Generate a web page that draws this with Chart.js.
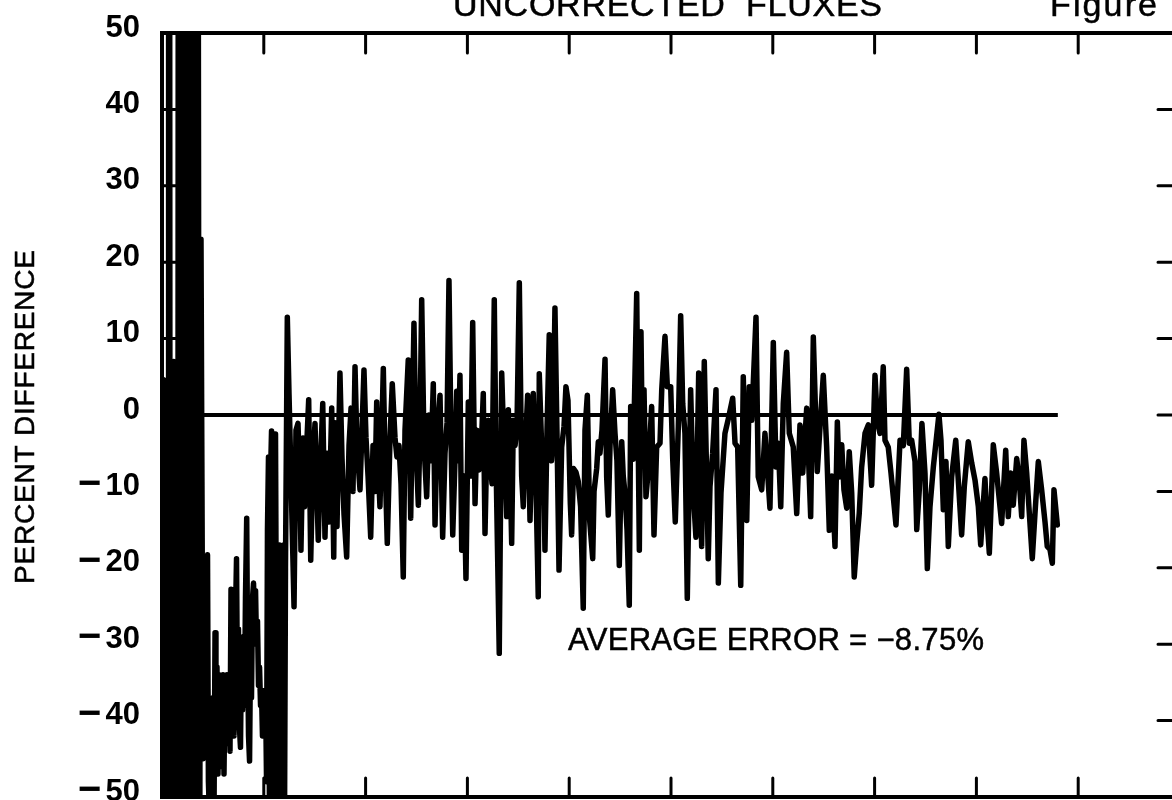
<!DOCTYPE html>
<html>
<head>
<meta charset="utf-8">
<title>Uncorrected fluxes</title>
<script src="https://cdn.jsdelivr.net/npm/chart.js@4.4.1/dist/chart.umd.min.js"></script>
<style>
    html, body { margin: 0; padding: 0; background: #fff; overflow: hidden; }
    #wrap { position: absolute; left: 0; top: 0; width: 1200px; height: 800px; }
</style>
</head>
<body>
<div id="wrap"><canvas id="fluxChart" width="1200" height="800"></canvas></div>

<script>
    // channel positions (x) and percent difference (y)
    const channel = [
        // saturated start, off scale both ways
        0, 1.5, 3, 6, 6.5, 7.5, 8, 10.5, 11.5, 12.5, 15.5, 16, 17, 17.5, 19, 19.5, 20.5, 21.5,
        22.5, 23.5, 24.5, 25.5, 26.5, 27.5, 28.5, 29.5, 30.5, 31.5, 32.5, 33.5, 34.5, 35.5, 36.8,
        // low region
        38.3, 40.3, 41.3, 42.2, 43.2, 44.7, 45.6, 47.2, 48.1, 49.1, 50.1, 51.1, 52.1, 53, 54, 55,
        56, 57, 58, 58.9, 59.9, 60.9, 61.9, 62.9, 63.8, 64.8, 65.8, 66.8, 67.8, 68.8, 69.7, 70.7,
        71.7, 73.2, 74.1, 75.1, 76.1, 77.1, 78.1, 79.1, 80.1, 81, 82, 83.2, 84, 85, 86, 87, 87.9,
        88.9, 89.9, 90.9, 91.9, 92.8, 93.8, 94.8, 95.8, 96.8, 97.7, 98.7, 99.7, 100.7, 101.7,
        102.7, 103.6, 104.6, 105.6, 106.6, 107.6, 108.5, 109.5, 110.5, 111.5, 112.5, 113.5,
        114.4, 115.4, 116.4, 117.4, 118.4, 119.3, 120.3, 121.3,
        // main band
        123.1, 124.8, 126.7, 129.7, 131.6, 133.6, 135.6, 136.5, 138.5, 140, 141.5, 144.1, 146.1,
        148.3, 150.3, 153.5, 155.2, 157.9, 160.1, 162.1, 164, 166.7, 168.7, 169.9, 171.9, 174.8,
        176.8, 178.8, 181.4, 183.7, 185.7, 187.6, 189.6, 191.5, 194.5, 198.4, 200.4, 202.4, 205,
        207.3, 209.2, 210.9, 212.2, 214.1, 217.4, 219.1, 221.3, 224, 226.2, 228.9, 230.8, 232.8,
        234.8, 237, 238.7, 241.9, 244.3, 247.5, 249.5, 251.8, 253.4, 255.1, 257.4, 260, 262.3,
        264.2, 266.5, 268.2, 270.1, 273.1, 275.7, 278, 280, 281.9, 283.9, 285.6, 287.8, 289.5,
        290.8, 292.7, 294.4, 296.7, 298.6, 300.9,
        303, 305.2, 307.5, 309.4, 311.4, 313.4, 315.6, 317.3, 319.2, 320.5, 322.2, 324.2, 326.4,
        328.1, 331.3, 333.7, 335.5, 336.9, 338.6, 340.2, 341.8, 343.5, 345.1, 346.8, 348.7, 351,
        353.3, 354.9, 356.6, 359.2, 361.5, 364.7, 366.9, 369.6, 370.6, 372.8, 374.7, 376.2, 378.2,
        380.4, 382.6, 384.1, 386, 388, 390, 392.6, 394.9, 396.8, 398.8, 401.1, 402.4, 404.2, 406.7,
        408.9, 411.2, 413.8, 415.5, 417.8, 420.1, 423.1, 424.4, 427, 428.6, 430.2, 432.2, 435.2,
        436.8, 438.4, 440.1, 442.7, 445, 446.9, 449.2, 451.6, 453.1, 454.8, 456.8, 459, 460.4,
        462.9, 466.3, 468.9, 470.5,
        472, 473.5, 475.4, 477.7, 481, 483.3, 485.9, 489.2, 490.9, 494.1, 496.4, 499.7, 501.7,
        504.2, 507.2, 509.5, 511.5, 513.7, 516, 519.3, 521.9, 524.5, 527.2, 530.1, 532.7, 535.1,
        536.6, 538.3, 540.9, 544.2, 546.5, 549.1, 553, 556.3, 560.6, 562.9, 565.5, 568.5, 571,
        574.4, 576.9, 579.3, 583.5, 585.7, 589.1, 592.3, 597.2, 600.5, 603.1, 605.4, 607.8, 610.3,
        613.6, 616.2, 620.1, 623.5, 626.7, 629.4, 633.3, 637.2, 639.8, 643.7, 646.4, 649.6, 652.9,
        655.5,
        // tail, smaller scatter
        658.1, 661.1, 663.4, 665.3, 667.7, 669.9, 672.6, 675.1, 677.5, 680, 682.4, 684.9, 687.3,
        690.6, 693.8, 695.5, 697.1, 700.4, 702.6, 705.3, 708.5, 710.2, 713.4, 716.1, 721, 725,
        728.2, 731.5, 734.1, 736.4, 739.7, 741.4, 743.9, 746.5, 749.5, 751.8, 754.4, 757.7, 763.2,
        765.2, 767.5, 770.1, 772.4, 775.7, 779.7, 782.2, 785.5, 788.1, 792, 795.4, 798.6, 801.9,
        804.2, 808.4, 810.1, 812.7, 816.6, 819.9, 824.8, 828.8, 831.3, 833.7, 836.2, 839.6, 842.1,
        844.5, 846.7, 849.4, 854.9, 857.5, 860.8, 864.1, 867.4, 869.6, 872.3, 874.6, 876.2, 879.5
    ];

    const percentDiff = [
        -75, 4.6, -75, -75, 75, 75, -75, -75, 7, -75, -75, 75, 75, -75, -75, 75, -75, 75,
        -75, 75, -75, 75, -75, 75, -75, 75, -75, 75, -75, 75, -75, 75, -75,
        23, -45, -22, -40, -20, -18.3, -48, -55, -38, -55, -37, -52, -28.5, -46, -33, -47,
        -34, -46, -36, -44, -34, -47, -35, -43, -34, -41, -35, -44, -22.8, -40, -25.4, -42,
        -30, -18.8, -36, -28, -41, -43.5, -30, -38.6, -29, -38, -24, -13.5, -30, -42, -45.3, -30, -37,
        -24, -22, -27, -23, -30, -27, -35.4, -33, -38, -36, -42, -38, -40, -36,
        -48, -15, -5.5, -55, -8, -2.1, -55, -6, -55, -2.5, -35, -17.5,
        -55, -17, -55, -18, -55, -17, -55, -20,
        12.8, 2.6, -8, -25.1, -2, -1.1, -10, -17.7, -3, -12, -6, 2, -19,
        -6, -1.1, -16.4, -8, 1.5, -16, -5, -14, 0.9, -18.6, -1, -14.6, 5.5,
        -5.5, -13, -18.6, -4, 0.9, -10, 6.3, -4, -9.8, 5.9, -3, -8, -16,
        -4, -10, 1.7, -6, -12, 6.1, -6, -16.8, -3, 4.1, -3, -5.5, -4,
        -9, -21.2, -2, 7.2, -13.5, 12, -4, -11.8, -2, 15.1, -4, -10.7, 0,
        -6, 4.1, -14.4, -3, 2.6, -16, -5, -1, 17.6, -3, -15.7, -6, 3.1,
        -6, 5.2, -17.7, -8, -21.4, 1.7,
        -8, 12.1, -11.6, -2, -7.2, -5, 2.8, -15.5, -3, -0.7, -6, -9, 15.1,
        -6, -31.2, 5.5, -2.4, -6, -13.3, 0.7, -6, -16.8, -0.7, -4, -1.5, 17.3,
        -8, -12, -5, 2.6, -13.8, 2.8, -6, -23.8, 5.4, -3.5, -6, -17.7, -2,
        10.5, -6, -3, 14, -2.4, -20.3, -4.2, -1.5, 3.7, 1.9, -11.6, -15.7, -7, -7.5,
        -8.7, -12, -25.3, -2, 2.6, -13.8, -18.8, -10, -7, -3.5, -5, -2, 7.3,
        -8.1, -13.1, -4, 3.3, -2.4, -6, -19.7, -3.5, -8, -10.2, -15, -24.9, 1.1,
        -5.8, 15.9, -17.7, 10.9,
        -5.8, 3.3, -10.7, -7.2, 1.1, -15.7, -4.2, -3.7, 3.3, 10.3, 3.7, 3.7, -5.8,
        -14, -1.5, 13, 1.5, -2.4, -24, 3.3, -10.2, -16, 5.5, -17.2, 7, -8.5,
        -18.8, -9.4, -5, 3.3, -22, -10.2, -2.4, -0.5, 2.2, -3.7, -4.2, -22.3, 5,
        -13.8, 3.7, -0.7, 12.8, -8.1, -9.8, -2.4, -12.2, 9.5, -6.8, -3.7, -12, 1.5,
        8.2, -2.4, -4.2, -12.9, -1.3, -7.6, 0.9, -13.3, 10.2, -7.4, -1.5, 5.2, -4.2,
        -15.1,
        -8, -17.2, -0.9, -8.1, -3.9, -9.8, -12.2, -4.8, -10.2, -21.2, -16.8, -12.9, -6.8,
        -2.4, -1.3, -5.5, -9.2, 5.2, -0.7, -2.4, 6.3, -3.3, -4.2, -7.6, -14.4, -3.3,
        -4, 6, -3.7, -3.3, -6.1, -15, -9.8, -1.1, -7.6, -20.1, -12, -6.8, 0.1,
        -3.3, -12.4, -6.1, -17.2, -8.1, -3.3, -8.5, -15.7, -9.4, -3.5, -6.3, -8.5, -12,
        -17, -8.3, -12.9, -18.1, -3.9, -7.6, -14.2, -4.6, -13.3, -7.6, -11.8, -5.7, -8.5,
        -13.3, -3.3, -7.6, -18.8, -13, -6.1, -9.8, -14, -17.2, -17.6, -19.4, -9.8, -14.4
    ];

    // reference line at zero
    const zeroX = [0, 880];
    const zeroY = [0, 0];

    const xTickValues = [0, 100, 200, 300, 400, 500, 600, 700, 800, 900, 1000];
    const yTickValues = [50, 40, 30, 20, 10, 0, -10, -20, -30, -40, -50];

    const titleText = 'UNCORRECTED  FLUXES';
    const figureText = 'Figure';
    const yAxisTitle = 'PERCENT DIFFERENCE';
    const noteText = 'AVERAGE ERROR = \u22128.75%';

    // draw text spread to a given width, slightly heavier than the plain face
    function spreadText(ctx, str, x, y, width) {
        ctx.letterSpacing = '0px';
        const w0 = ctx.measureText(str).width;
        const n = Array.from(str).length;
        ctx.letterSpacing = ((width - w0) / (n - 1)) + 'px';
        ctx.textAlign = 'left';
        ctx.fillText(str, x, y);
        ctx.lineWidth = 0.5;
        ctx.strokeText(str, x, y);
        ctx.letterSpacing = '0px';
    }

    const framePlugin = {
        id: 'frame',
        afterDatasetsDraw(chart) {
            const ctx = chart.ctx;
            const a = chart.chartArea;
            const xs = chart.scales.x;
            const ys = chart.scales.y;

            ctx.save();
            ctx.strokeStyle = '#000';
            ctx.fillStyle = '#000';
            ctx.lineCap = 'round';

            // inward ticks on all four sides
            ctx.lineWidth = 3;
            ctx.beginPath();
            xTickValues.forEach(v => {
                const px = xs.getPixelForValue(v);
                ctx.moveTo(px, a.top); ctx.lineTo(px, a.top + 20);
                ctx.moveTo(px, a.bottom); ctx.lineTo(px, a.bottom - 19);
            });
            yTickValues.forEach(v => {
                const py = ys.getPixelForValue(v);
                ctx.moveTo(a.left, py); ctx.lineTo(a.left + 21, py);
                ctx.moveTo(a.right, py); ctx.lineTo(a.right - 22, py);
            });
            ctx.stroke();

            // frame
            ctx.lineWidth = 4;
            ctx.lineCap = 'butt';
            ctx.strokeRect(a.left, a.top, a.right - a.left, a.bottom - a.top);

            // y tick labels: digits, and a long minus for negatives
            ctx.textAlign = 'right';
            ctx.textBaseline = 'middle';
            yTickValues.forEach(v => {
                const py = ys.getPixelForValue(v) - 5;
                ctx.font = 'bold 31px "Liberation Sans", Arial, sans-serif';
                ctx.fillText(String(Math.abs(v)), 140, py);
                if (v < 0) {
                    ctx.font = 'bold 40px "Liberation Sans", Arial, sans-serif';
                    ctx.fillText('\u2212', 101, py - 1);
                }
            });

            // axis title
            ctx.textBaseline = 'alphabetic';
            ctx.font = '28px "Liberation Sans", Arial, sans-serif';
            ctx.save();
            ctx.translate(34, ys.getPixelForValue(0) + 169);
            ctx.rotate(-Math.PI / 2);
            spreadText(ctx, yAxisTitle, 0, 0, 334);
            ctx.restore();

            // heading, cut by the page top
            ctx.font = '34px "Liberation Sans", Arial, sans-serif';
            spreadText(ctx, titleText, 453, 16, 429);
            spreadText(ctx, figureText, 1050, 16, 107);

            // annotation
            ctx.font = '31px "Liberation Sans", Arial, sans-serif';
            spreadText(ctx, noteText, 568, 650, 416);

            ctx.restore();
        }
    };

    const ctx = document.getElementById('fluxChart').getContext('2d');
    const fluxChart = new Chart(ctx, {
        type: 'line',
        data: {
            datasets: [{
                label: 'Percent difference',
                data: channel.map((c, i) => ({ x: c, y: percentDiff[i] })),
                borderColor: '#000',
                borderWidth: 5.5,
                borderJoinStyle: 'round',
                borderCapStyle: 'round',
                pointRadius: 0,
                tension: 0,
                fill: false,
                clip: 0
            }, {
                label: 'Zero',
                data: zeroX.map((c, i) => ({ x: c, y: zeroY[i] })),
                borderColor: '#000',
                borderWidth: 4,
                pointRadius: 0,
                fill: false,
                clip: 0
            }]
        },
        options: {
            responsive: false,
            animation: false,
            events: [],
            layout: { padding: { left: 162, right: 20, top: 33, bottom: 3 } },
            plugins: {
                legend: { display: false },
                title: { display: false },
                tooltip: { enabled: false }
            },
            scales: {
                x: { type: 'linear', min: 0, max: 1000, display: false },
                y: { type: 'linear', min: -50, max: 50, display: false }
            }
        },
        plugins: [framePlugin]
    });
</script>
</body>
</html>
